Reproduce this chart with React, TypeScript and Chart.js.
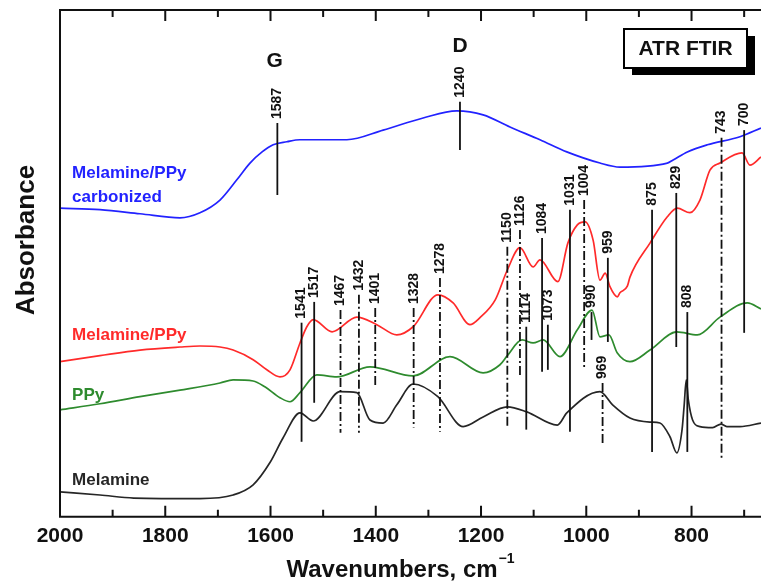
import { useEffect, useRef } from "react";
import { Chart, registerables } from "chart.js";

Chart.register(...registerables);

const FONT = '"Liberation Sans", Arial, Helvetica, sans-serif';

// Wavenumber axis (cm^-1), drawn high-to-low
const X_MAX = 2000;
const X_MIN = 668;
const MAJOR_TICKS = [800, 1000, 1200, 1400, 1600, 1800, 2000];
const MINOR_TICKS = [700, 900, 1100, 1300, 1500, 1700, 1900];

// Melamine/PPy carbonized (offset spectrum, a.u.)
const CARB_WN = [2000, 1924, 1848, 1772, 1734, 1696, 1664, 1639, 1616, 1595, 1569, 1544, 1506, 1455, 1386, 1310, 1246, 1196, 1145, 1088, 1037, 974, 936, 846, 835, 808, 770, 708, 668];
const CARB_ABS = [60.9, 60.6, 59.8, 59.0, 60.0, 62.5, 66.5, 69.8, 72.0, 73.4, 74.0, 74.4, 74.4, 74.4, 76.3, 78.7, 80.1, 79.3, 76.9, 74.4, 72.0, 69.8, 69.0, 69.8, 70.4, 72.0, 73.4, 75.0, 76.7];

// Melamine/PPy
const MPPY_WN = [2000, 1924, 1848, 1772, 1734, 1696, 1671, 1633, 1607, 1582, 1563, 1544, 1531, 1519, 1483, 1436, 1398, 1360, 1329, 1282, 1253, 1221, 1202, 1173, 1150, 1126, 1101, 1088, 1054, 1035, 1017, 1002, 987, 974, 964, 955, 941, 936, 922, 917, 879, 846, 827, 803, 784, 765, 746, 704, 689, 668];
const MPPY_ABS = [30.6, 31.8, 32.9, 33.5, 33.7, 33.5, 32.9, 31.0, 29.0, 27.6, 29.0, 34.3, 37.5, 38.9, 36.5, 39.4, 37.9, 35.9, 37.5, 43.8, 42.2, 37.9, 39.3, 42.8, 48.7, 53.1, 49.3, 50.7, 46.4, 54.0, 57.6, 58.2, 54.6, 46.7, 48.1, 45.4, 43.4, 44.2, 45.5, 47.3, 54.0, 59.2, 60.9, 60.0, 62.5, 68.4, 69.8, 71.8, 69.4, 71.0];

// PPy
const PPY_WN = [2000, 1924, 1848, 1772, 1696, 1671, 1633, 1610, 1582, 1563, 1544, 1512, 1474, 1411, 1329, 1259, 1196, 1164, 1150, 1122, 1101, 1082, 1050, 1017, 989, 974, 957, 941, 917, 879, 828, 789, 746, 694, 668];
const PPY_ABS = [21.1, 22.3, 23.7, 25.0, 26.4, 27.0, 26.8, 25.6, 23.5, 22.7, 24.5, 28.0, 27.6, 29.6, 27.8, 31.6, 28.4, 30.0, 31.8, 34.9, 34.3, 34.9, 31.6, 36.9, 40.8, 35.5, 35.9, 32.3, 30.6, 32.9, 36.5, 35.9, 39.4, 42.2, 41.0];

// Melamine
const MEL_WN = [2000, 1924, 1860, 1734, 1671, 1633, 1601, 1576, 1544, 1519, 1468, 1436, 1411, 1386, 1360, 1329, 1282, 1234, 1196, 1150, 1113, 1055, 1037, 974, 950, 917, 879, 860, 841, 828, 818, 814, 810, 806, 798, 784, 760, 744, 733, 708, 668];
const MEL_ABS = [4.9, 4.3, 3.7, 3.6, 4.3, 6.3, 10.7, 15.6, 20.5, 18.9, 24.7, 24.5, 19.1, 18.5, 22.1, 26.2, 23.7, 17.8, 19.7, 21.7, 20.7, 18.1, 20.5, 24.7, 22.1, 19.5, 18.7, 18.5, 15.8, 12.6, 17.2, 22.0, 27.0, 23.0, 19.1, 17.8, 17.6, 18.3, 17.8, 17.8, 18.5];

// Band assignments: position, marker span (a.u.), dash style
const PEAK_WN = [1587, 1240, 1541, 1517, 1467, 1432, 1401, 1328, 1278, 1150, 1126, 1114, 1084, 1073, 1031, 1004, 990, 969, 959, 875, 829, 808, 743, 700];
const PEAK_TOP = [77.7, 81.9, 38.3, 42.4, 40.8, 43.8, 41.2, 41.2, 47.1, 53.3, 56.6, 37.5, 55.0, 37.9, 60.6, 62.5, 40.4, 26.4, 51.1, 60.6, 63.9, 40.4, 74.8, 76.3];
const PEAK_BOTTOM = [63.5, 72.4, 14.8, 22.5, 16.6, 16.6, 25.6, 17.6, 16.8, 17.6, 27.6, 17.2, 28.6, 29.0, 16.8, 29.0, 34.9, 14.2, 34.5, 12.8, 33.5, 12.8, 11.6, 36.3];
const PEAK_DASHED = [false, false, false, false, true, true, true, true, true, true, true, false, false, false, false, true, false, true, false, false, false, false, true, false];

const COLORS = {
  carb: "#2222ff",
  mppy: "#ff2a2a",
  ppy: "#2e8b2e",
  mel: "#262626",
};

const toPoints = (wn: number[], abs: number[]) => wn.map((x, i) => ({ x, y: abs[i] }));

const decorPlugin = {
  id: "ftirDecor",
  afterDatasetsDraw(chart: any) {
    const { ctx, scales } = chart;
    const xs = scales.x;
    const ys = scales.y;
    ctx.save();
    ctx.strokeStyle = "#111";
    ctx.fillStyle = "#111";
    ctx.lineWidth = 1.8;
    ctx.font = `bold 14px ${FONT}`;
    PEAK_WN.forEach((wn, i) => {
      const px = xs.getPixelForValue(wn);
      const y1 = ys.getPixelForValue(PEAK_TOP[i]);
      const y2 = ys.getPixelForValue(PEAK_BOTTOM[i]);
      ctx.setLineDash(PEAK_DASHED[i] ? [9, 3, 2, 3] : []);
      ctx.beginPath();
      ctx.moveTo(px, y1);
      ctx.lineTo(px, y2);
      ctx.stroke();
      ctx.save();
      ctx.translate(px, y1 - 4);
      ctx.rotate(-Math.PI / 2);
      ctx.textAlign = "left";
      ctx.textBaseline = "middle";
      ctx.fillText(String(wn), 0, 0);
      ctx.restore();
    });
    ctx.setLineDash([]);

    // band letters above the carbonized spectrum
    ctx.font = `bold 21px ${FONT}`;
    ctx.textAlign = "center";
    ctx.textBaseline = "alphabetic";
    ctx.fillText("G", xs.getPixelForValue(1592), ys.getPixelForValue(88.7));
    ctx.fillText("D", xs.getPixelForValue(1240), ys.getPixelForValue(91.7));

    // spectrum names
    ctx.font = `bold 17px ${FONT}`;
    ctx.textAlign = "left";
    const lx = xs.getPixelForValue(1977);
    ctx.fillStyle = COLORS.carb;
    ctx.fillText("Melamine/PPy", lx, ys.getPixelForValue(66.9));
    ctx.fillText("carbonized", lx, ys.getPixelForValue(62.1));
    ctx.fillStyle = COLORS.mppy;
    ctx.fillText("Melamine/PPy", lx, ys.getPixelForValue(34.9));
    ctx.fillStyle = COLORS.ppy;
    ctx.fillText("PPy", lx, ys.getPixelForValue(23.1));
    ctx.fillStyle = COLORS.mel;
    ctx.fillText("Melamine", lx, ys.getPixelForValue(6.3));
    ctx.restore();
  },
  afterDraw(chart: any) {
    const { ctx, chartArea, scales } = chart;
    const { left, right, top, bottom } = chartArea;
    const xs = scales.x;
    ctx.save();
    ctx.strokeStyle = "#111";
    ctx.lineWidth = 2;
    ctx.setLineDash([]);
    // frame
    ctx.beginPath();
    ctx.moveTo(right, top);
    ctx.lineTo(left, top);
    ctx.lineTo(left, bottom);
    ctx.lineTo(right, bottom);
    ctx.stroke();
    // inward ticks on bottom and top
    const tick = (v: number, len: number) => {
      const px = xs.getPixelForValue(v);
      ctx.beginPath();
      ctx.moveTo(px, bottom);
      ctx.lineTo(px, bottom - len);
      ctx.moveTo(px, top);
      ctx.lineTo(px, top + len);
      ctx.stroke();
    };
    MAJOR_TICKS.forEach((v) => tick(v, 11));
    MINOR_TICKS.forEach((v) => tick(v, 7));

    // axis titles
    ctx.fillStyle = "#111";
    ctx.textBaseline = "alphabetic";
    ctx.font = `bold 24px ${FONT}`;
    const main = "Wavenumbers, cm";
    const mainW = ctx.measureText(main).width;
    ctx.font = `bold 14px ${FONT}`;
    const sup = "\u22121";
    const supW = ctx.measureText(sup).width;
    const startX = left + 340 - (mainW + supW) / 2;
    ctx.font = `bold 24px ${FONT}`;
    ctx.textAlign = "left";
    ctx.fillText(main, startX, 577);
    ctx.font = `bold 14px ${FONT}`;
    ctx.fillText(sup, startX + mainW + 1, 563);

    ctx.save();
    ctx.translate(27, 240);
    ctx.rotate(-Math.PI / 2);
    ctx.font = `bold 26px ${FONT}`;
    ctx.textAlign = "center";
    ctx.textBaseline = "middle";
    ctx.fillText("Absorbance", 0, 0);
    ctx.restore();

    // method box with drop shadow
    const bx = 624, by = 29, bw = 123, bh = 39;
    ctx.fillStyle = "#000";
    ctx.fillRect(bx + 8, by + 7, bw, bh);
    ctx.fillStyle = "#fff";
    ctx.fillRect(bx, by, bw, bh);
    ctx.strokeStyle = "#000";
    ctx.lineWidth = 2;
    ctx.strokeRect(bx, by, bw, bh);
    ctx.fillStyle = "#111";
    ctx.font = `bold 21px ${FONT}`;
    ctx.textAlign = "center";
    ctx.textBaseline = "middle";
    ctx.fillText("ATR FTIR", bx + bw / 2, by + bh / 2 + 1);
    ctx.restore();
  },
};

export default function App() {
  const canvasRef = useRef<HTMLCanvasElement | null>(null);

  useEffect(() => {
    const canvas = canvasRef.current;
    if (!canvas) return;
    const line = (label: string, wn: number[], abs: number[], color: string) => ({
      label,
      data: toPoints(wn, abs),
      borderColor: color,
      borderWidth: 1.7,
      pointRadius: 0,
      fill: false,
      cubicInterpolationMode: "monotone" as const,
    });
    const chart = new Chart(canvas, {
      type: "line",
      data: {
        datasets: [
          line("Melamine/PPy carbonized", CARB_WN, CARB_ABS, COLORS.carb),
          line("Melamine/PPy", MPPY_WN, MPPY_ABS, COLORS.mppy),
          line("PPy", PPY_WN, PPY_ABS, COLORS.ppy),
          line("Melamine", MEL_WN, MEL_ABS, COLORS.mel),
        ],
      },
      options: {
        animation: false,
        responsive: false,
        devicePixelRatio: 1,
        layout: { padding: { left: 60, top: 10, right: 0, bottom: 27 } },
        plugins: { legend: { display: false }, tooltip: { enabled: false } },
        scales: {
          x: {
            type: "linear",
            reverse: true,
            min: X_MIN,
            max: X_MAX,
            afterBuildTicks: (scale: any) => {
              scale.ticks = MAJOR_TICKS.map((value) => ({ value }));
            },
            grid: { display: false, drawTicks: false },
            border: { display: false },
            ticks: {
              autoSkip: false,
              maxRotation: 0,
              padding: 7,
              color: "#111",
              font: { family: FONT, size: 21, weight: "bold" },
              callback: (v: any) => String(v),
            },
          },
          y: { display: false, min: 0, max: 100 },
        },
      },
      plugins: [decorPlugin],
    });
    return () => chart.destroy();
  }, []);

  return (
    <div style={{ position: "absolute", left: 0, top: 0, width: 761, height: 583, background: "#fff" }}>
      <canvas ref={canvasRef} width={761} height={583} style={{ display: "block" }} />
    </div>
  );
}
